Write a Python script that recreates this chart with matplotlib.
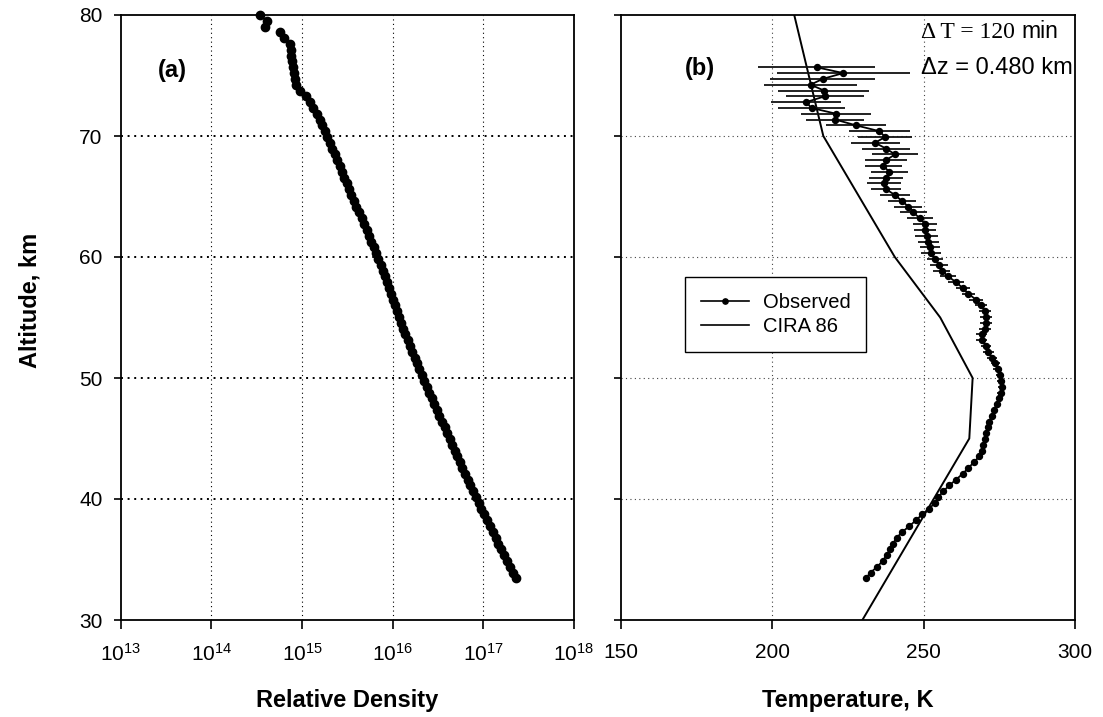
import numpy as np
import matplotlib
matplotlib.use("Agg")
import matplotlib.pyplot as plt
from matplotlib.lines import Line2D
from matplotlib.ticker import FixedLocator, NullLocator, LogFormatterSciNotation

plt.rcParams['font.family'] = ['Liberation Sans', 'DejaVu Sans']
plt.rcParams['mathtext.fontset'] = 'custom'
plt.rcParams['mathtext.rm'] = 'Liberation Sans'
plt.rcParams['mathtext.it'] = 'Liberation Sans:italic'
plt.rcParams['mathtext.bf'] = 'Liberation Sans:bold'

# Lidar altitude grid: lowest gate and vertical resolution (km)
Z0_KM = 33.44
DZ_KM = 0.48

# (a) relative density profile, log10 values from the lowest gate upward
log_density = [
    17.360, 17.328, 17.296, 17.264, 17.232, 17.199, 17.167, 17.135, 17.103, 17.072,
    17.041, 17.010, 16.978, 16.947, 16.915, 16.886, 16.857, 16.827, 16.798, 16.769,
    16.739, 16.711, 16.683, 16.656, 16.628, 16.600, 16.572, 16.544, 16.516, 16.488,
    16.459, 16.431, 16.402, 16.374, 16.345, 16.319, 16.293, 16.267, 16.242, 16.216,
    16.190, 16.164, 16.138, 16.112, 16.091, 16.070, 16.048, 16.027, 16.006, 15.984,
    15.962, 15.938, 15.914, 15.890, 15.867, 15.843, 15.817, 15.792, 15.766, 15.741,
    15.715, 15.686, 15.657, 15.628, 15.600, 15.571, 15.545, 15.519, 15.494, 15.468,
    15.442, 15.417, 15.389, 15.361, 15.332, 15.304, 15.276, 15.248, 15.221, 15.193,
    15.165, 15.124, 15.087, 15.045, 14.975, 14.935, 14.918, 14.910, 14.900, 14.890,
    14.882, 14.876, 14.872, 14.800, 14.756, 14.590, 14.610, 14.536,
]

# (b) observed temperature (K) and its uncertainty, same altitude gates
temperature_obs = [
    230.9, 232.5, 234.7, 236.5, 237.8, 238.9, 240.0, 241.1, 243.0, 245.3,
    247.5, 249.5, 251.8, 253.8, 254.9, 256.5, 258.5, 260.7, 262.9, 264.8,
    266.6, 268.4, 269.2, 269.7, 270.3, 270.6, 271.2, 271.7, 272.5, 273.3,
    274.1, 274.8, 275.5, 275.8, 275.5, 275.3, 274.5, 273.6, 272.5, 271.4,
    270.6, 269.2, 269.2, 270.3, 270.6, 270.6, 270.3, 268.9, 267.3, 264.8,
    262.9, 260.7, 258.1, 256.0, 255.2, 253.8, 252.3, 252.1, 251.6, 251.0,
    250.5, 250.5, 248.8, 246.6, 245.0, 242.8, 240.6, 237.6, 237.0, 237.6,
    238.7, 236.7, 237.6, 240.6, 237.6, 234.0, 237.3, 235.4, 227.7, 220.8,
    221.1, 213.0, 211.2, 217.4, 217.1, 212.7, 216.7, 223.5, 214.7,
]
temperature_err = [
    0.4, 0.4, 0.4, 0.4, 0.4, 0.4, 0.4, 0.5, 0.5, 0.5,
    0.5, 0.5, 0.5, 0.6, 0.6, 0.6, 0.6, 0.6, 0.7, 0.7,
    0.7, 0.7, 0.8, 0.8, 0.8, 0.8, 0.8, 0.8, 0.8, 0.8,
    0.9, 1.0, 1.1, 1.2, 1.3, 1.4, 1.5, 1.5, 1.6, 1.7,
    1.8, 1.8, 1.9, 1.9, 2.0, 2.0, 2.0, 1.9, 2.2, 2.2,
    2.3, 2.5, 2.6, 2.75, 3.0, 2.75, 3.3, 3.3, 3.6, 3.7,
    3.7, 4.0, 4.4, 4.4, 4.6, 4.7, 5.0, 5.1, 5.7, 5.7,
    6.0, 6.2, 7.0, 7.7, 8.0, 8.1, 9.0, 10.0, 10.0, 9.6,
    11.5, 11.0, 11.5, 12.8, 15.0, 15.4, 17.3, 22.0, 19.3,
]

# CIRA 86 reference atmosphere
cira_alt = [30, 45, 50, 55, 60, 70, 80]
cira_temp = [229.8, 265.1, 266.2, 255.5, 240.5, 216.9, 207.3]

density_alt = Z0_KM + DZ_KM * np.arange(len(log_density))
density = 10.0 ** np.asarray(log_density)
temp_alt = Z0_KM + DZ_KM * np.arange(len(temperature_obs))

W, H = 1103, 717
fig = plt.figure(figsize=(W / 100, H / 100), dpi=100)
fig.patch.set_facecolor('white')

def px_box(x0, x1, y_top, y_bot):
    return [x0 / W, 1 - y_bot / H, (x1 - x0) / W, (y_bot - y_top) / H]

ax1 = fig.add_axes(px_box(120.7, 574.0, 15, 620))
ax2 = fig.add_axes(px_box(620.7, 1075.0, 15, 620))

for ax in (ax1, ax2):
    for sp in ax.spines.values():
        sp.set_linewidth(1.3)
        sp.set_color('black')
    ax.set_ylim(30, 80)
    ax.yaxis.set_major_locator(FixedLocator([30, 40, 50, 60, 70, 80]))
    ax.yaxis.set_minor_locator(NullLocator())
    ax.tick_params(axis='y', direction='out', length=5, width=1.2, pad=8,
                   labelsize=15, colors='black')
    ax.tick_params(axis='x', direction='out', length=6.5, width=1.2, pad=10,
                   labelsize=15, colors='black')

# (a) density
ax1.set_xscale('log')
ax1.set_xlim(1e13, 1e18)
ax1.xaxis.set_major_locator(FixedLocator([1e13, 1e14, 1e15, 1e16, 1e17, 1e18]))
ax1.xaxis.set_minor_locator(NullLocator())
ax1.xaxis.set_major_formatter(LogFormatterSciNotation())
for x in [1e14, 1e15, 1e16, 1e17]:
    ax1.axvline(x, color='black', lw=0.8, ls=(0, (1, 3)), zorder=0)
for y in [40, 50, 60, 70]:
    ax1.axhline(y, color='black', lw=1.4, ls=(0, (1, 2.4)), zorder=0)
ax1.plot(density, density_alt, 'o', color='black', ms=6.0, mec='black',
         clip_on=False, zorder=3)

# (b) temperature
ax2.set_xlim(150, 300)
ax2.xaxis.set_major_locator(FixedLocator([150, 200, 250, 300]))
ax2.xaxis.set_minor_locator(NullLocator())
ax2.tick_params(axis='y', labelleft=False)
for x in [200, 250]:
    ax2.axvline(x, color='#444444', lw=0.8, ls=(0, (1, 3)), zorder=0)
for y in [40, 50, 60, 70]:
    ax2.axhline(y, color='#444444', lw=0.8, ls=(0, (1, 3)), zorder=0)
ax2.errorbar(temperature_obs, temp_alt, xerr=temperature_err, fmt='-o',
             color='black', ms=4.3, lw=1.3, elinewidth=1.3, ecolor='#111111',
             capsize=0, zorder=3)
ax2.plot(cira_temp, cira_alt, '-', color='black', lw=1.4, zorder=2)

handles = [Line2D([], [], color='black', lw=1.2, marker='o', ms=3.8),
           Line2D([], [], color='black', lw=1.2)]
leg = ax2.legend(handles, ['Observed', 'CIRA 86'], loc='upper left',
                 bbox_to_anchor=(685 / W, 1 - 277 / H), bbox_transform=fig.transFigure,
                 borderaxespad=0, fontsize=14.5, frameon=True, fancybox=False,
                 edgecolor='black', framealpha=1, borderpad=0.8, labelspacing=0.25,
                 handlelength=2.4, handletextpad=0.65, numpoints=1)
leg.get_frame().set_linewidth(1.0)

# panel tags and labels
fig.text(172 / W, 1 - 71 / H, '(a)', fontsize=17, fontweight='bold',
         ha='center', va='center')
fig.text(700 / W, 1 - 69 / H, '(b)', fontsize=17, fontweight='bold',
         ha='center', va='center')
fig.text(921 / W, 1 - 38 / H, '\u0394 T = 120', fontsize=17,
         family=['Liberation Serif', 'DejaVu Serif'], ha='left', va='baseline')
fig.text(1021 / W, 1 - 38 / H, 'min', fontsize=16.5, ha='left', va='baseline')
fig.text(921 / W, 1 - 74 / H, '\u0394z = 0.480 km', fontsize=17,
         ha='left', va='baseline')

fig.text(30 / W, 1 - 300 / H, 'Altitude, km', fontsize=17, fontweight='bold',
         rotation=90, ha='center', va='center')
fig.text(347 / W, 1 - 701 / H, 'Relative Density', fontsize=17,
         fontweight='bold', ha='center', va='center')
fig.text(848 / W, 1 - 701 / H, 'Temperature, K', fontsize=17,
         fontweight='bold', ha='center', va='center')

fig.savefig('out.png', dpi=100, facecolor='white')
